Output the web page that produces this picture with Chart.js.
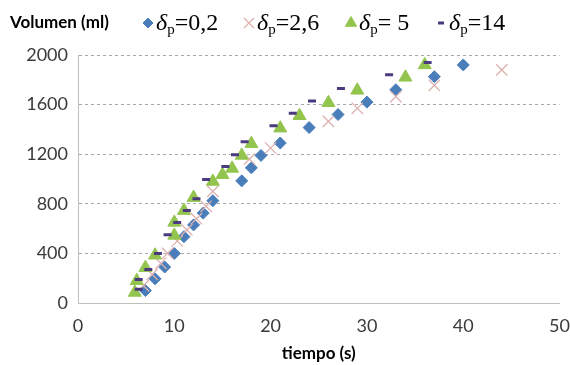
<!DOCTYPE html>
<html>
<head>
<meta charset="utf-8">
<script src="https://cdn.jsdelivr.net/npm/chart.js@4.4.0/dist/chart.umd.min.js"></script>
<style>
  html, body { margin: 0; padding: 0; background: #fff; }
  canvas { display: block; }
</style>
</head>
<body>
<canvas id="c" width="570" height="365"></canvas>
<script>
// Filtrate volume against time for four values of delta_p
const xTicks = [0, 10, 20, 30, 40, 50];
const yTicks = [0, 400, 800, 1200, 1600, 2000];
const yTitle = 'Volumen (ml)';
const xTitle = 'tiempo (s)';
const legendValues = ['=0,2', '=2,6', '= 5', '=14'];

// delta_p = 0,2
const t02 = [7, 8, 9, 10, 11, 12, 13, 14, 17, 18, 19, 21, 24, 27, 30, 33, 37, 40];
const v02 = [100, 195, 290, 400, 535, 630, 725, 825, 985, 1090, 1190, 1290, 1415, 1520, 1620, 1720, 1825, 1920];

// delta_p = 2,6
const t26 = [6.8, 7.7, 8.6, 9.3, 10.3, 11.3, 12.3, 13.3, 14, 17.8, 20, 26, 29, 33, 37, 44];
const v26 = [140, 230, 320, 400, 500, 590, 680, 780, 900, 1160, 1250, 1465, 1570, 1665, 1755, 1880];

// delta_p = 5
const t5 = [5.9, 6.1, 7, 8, 10, 10, 11, 12, 14, 15, 16, 17, 18, 21, 23, 26, 29, 34, 36];
const v5 = [85, 180, 285, 385, 545, 650, 745, 850, 980, 1035, 1085, 1190, 1285, 1410, 1510, 1615, 1715, 1820, 1920];

// delta_p = 14
const t14 = [6.3, 6.3, 7.3, 8.3, 9.3, 10.3, 11.3, 12.3, 13.3, 15.3, 16.3, 17.3, 20.3, 22.3, 24.3, 27.3, 32.3, 36.3];
const v14 = [110, 190, 270, 400, 550, 650, 745, 840, 995, 1100, 1195, 1300, 1430, 1530, 1630, 1730, 1840, 1940];

const pts = (xs, ys) => xs.map((x, i) => ({ x: x, y: ys[i] }));

const styles = [
  { pointStyle: 'rectRot', fill: '#4A7EBB', stroke: '#4A7EBB', radius: 6, width: 1, legendRadius: 5 },
  { pointStyle: 'crossRot', fill: 'rgba(0,0,0,0)', stroke: '#DDB1AF', radius: 8, width: 1.3, legendRadius: 7 },
  { pointStyle: 'triangle', fill: '#93C54E', stroke: '#93C54E', radius: 7.5, width: 1, legendRadius: 6.5 },
  { pointStyle: 'line', fill: '#4B3A7E', stroke: '#4B3A7E', radius: 4, width: 3, legendRadius: 3 }
];
// legend marker centres along the header row
const legendMarkX = [148, 249, 351, 441];

const seriesData = [pts(t02, v02), pts(t26, v26), pts(t5, v5), pts(t14, v14)];

const datasets = seriesData.map((d, i) => ({
  label: legendValues[i],
  data: d,
  showLine: false,
  pointStyle: styles[i].pointStyle,
  pointRadius: styles[i].radius,
  pointHoverRadius: styles[i].radius,
  backgroundColor: styles[i].fill,
  borderColor: styles[i].stroke,
  borderWidth: styles[i].width,
  order: 4 - i
}));

// Axis caption at top left and the legend row with subscripted delta_p
const headerPlugin = {
  id: 'header',
  afterDraw(chart) {
    const ctx = chart.ctx;
    ctx.save();
    ctx.fillStyle = '#000';
    ctx.textBaseline = 'alphabetic';
    ctx.font = 'bold 17px Lato';
    ctx.fillText(yTitle, 10, 28);

    const base = 30;
    styles.forEach((s, i) => {
      const mx = legendMarkX[i];
      ctx.fillStyle = s.fill;
      ctx.strokeStyle = s.stroke;
      ctx.lineWidth = s.width;
      Chart.helpers.drawPoint(ctx, {
        pointStyle: s.pointStyle, radius: s.legendRadius, borderWidth: s.width, rotation: 0
      }, mx, base - 7);
      let x = mx + 8;
      ctx.fillStyle = '#000';
      ctx.font = 'italic 24px "Liberation Serif"';
      ctx.fillText('δ', x, base);
      x += ctx.measureText('δ').width;
      ctx.font = '15px "Liberation Serif"';
      ctx.fillText('p', x, base + 4);
      x += ctx.measureText('p').width;
      ctx.font = '24px "Liberation Serif"';
      ctx.fillText(legendValues[i], x, base);
    });
    ctx.restore();
  }
};

new Chart(document.getElementById('c'), {
  type: 'scatter',
  data: { datasets: datasets },
  plugins: [headerPlugin],
  options: {
    responsive: false,
    animation: false,
    devicePixelRatio: 1,
    layout: { autoPadding: false, padding: { left: 0, right: 10, top: 55, bottom: 0 } },
    plugins: { legend: { display: false }, tooltip: { enabled: false } },
    scales: {
      x: {
        type: 'linear',
        min: xTicks[0],
        max: xTicks[xTicks.length - 1],
        afterBuildTicks(s) { s.ticks = xTicks.map(v => ({ value: v })); },
        afterFit(s) { s.height = 62; },
        ticks: { font: { family: 'Lato', size: 18 }, color: '#3A3A3A', padding: 0, maxRotation: 0,
                 callback: v => String(v) },
        grid: { display: false, drawTicks: true, tickLength: 12 },
        border: { display: true, color: '#BFBFBF', width: 1 },
        title: {
          display: true, text: xTitle, color: '#000',
          font: { family: 'Lato', size: 17, weight: 'bold' },
          padding: { top: 0, bottom: 1 }
        }
      },
      y: {
        type: 'linear',
        min: yTicks[0],
        max: yTicks[yTicks.length - 1],
        afterBuildTicks(s) { s.ticks = yTicks.map(v => ({ value: v })); },
        afterFit(s) { s.width = 78; },
        ticks: { font: { family: 'Lato', size: 18 }, color: '#3A3A3A', padding: 10,
                 callback: v => String(v) },
        grid: { color: '#A8A8A8', lineWidth: 1, drawTicks: false, tickLength: 0 },
        border: { display: true, color: '#BFBFBF', width: 1, dash: [3, 3] }
      }
    }
  }
});
</script>
</body>
</html>
